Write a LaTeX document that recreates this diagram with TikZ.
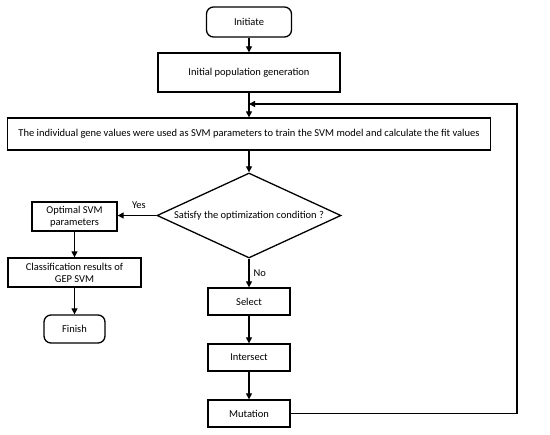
\documentclass[tikz,border=0pt]{standalone}
\usepackage{fontspec}
\setmainfont{Carlito}
\usetikzlibrary{shapes.geometric,arrows.meta}
\begin{document}
\begin{tikzpicture}[x=1pt,y=-1pt,
  every node/.style={font=\fontsize{10.5}{12}\selectfont, inner sep=1pt, align=center},
  box/.style={draw, line width=1.3pt, minimum height=27pt},
  term/.style={draw, line width=1.3pt, rounded corners=7pt},
  cond/.style={draw, line width=1.3pt, diamond, aspect=2.16, inner sep=0pt},
  arr/.style={line width=1.3pt, -{Triangle[length=6pt,width=6pt]}},
  lbl/.style={font=\fontsize{10.5}{12}\selectfont}]
\useasboundingbox (0,0) rectangle (550,435);
\node[term, minimum width=85pt, minimum height=30pt] (init) at (249,22) {Initiate};
\node[box, minimum width=182pt, minimum height=39pt] (pop) at (249,72.5) {Initial population generation};
\node[box, minimum width=483pt, minimum height=32pt] (fit) at (249,134) {The individual gene values were used as SVM parameters to train the SVM model and calculate the fit values};
\node[cond, minimum width=184pt, minimum height=85pt] (dia) at (249,215.5) {Satisfy the optimization condition ?};
\node[box, minimum width=85pt, minimum height=29pt] (opt) at (74.5,216.5) {Optimal SVM\\parameters};
\node[box, minimum width=133pt, minimum height=29pt] (cls) at (74.5,272.5) {Classification results of\\GEP SVM};
\node[term, minimum width=61pt, minimum height=28pt] (fin) at (74.5,329) {Finish};
\node[box, minimum width=82pt] (sel) at (249,301.5) {Select};
\node[box, minimum width=82pt] (int) at (249,357.5) {Intersect};
\node[box, minimum width=82pt] (mut) at (249,413.5) {Mutation};
\coordinate (fb) at (517,104);
\draw[arr] (init) -- (pop);
\draw[arr] (pop) -- (fit);
\draw[arr] (fit) -- (dia);
\draw[arr] (dia.west) -- (opt.east |- dia.west) node[lbl, pos=0.45, above=5pt] {Yes};
\draw[arr] (opt) -- (cls);
\draw[arr] (cls) -- (fin);
\draw[arr] (dia) -- (sel) node[lbl, midway, right=3pt] {No};
\draw[arr] (sel) -- (int);
\draw[arr] (int) -- (mut);
\draw[arr] (mut.east) -| (fb) -- (fb -| pop.south);
\end{tikzpicture}
\end{document}
